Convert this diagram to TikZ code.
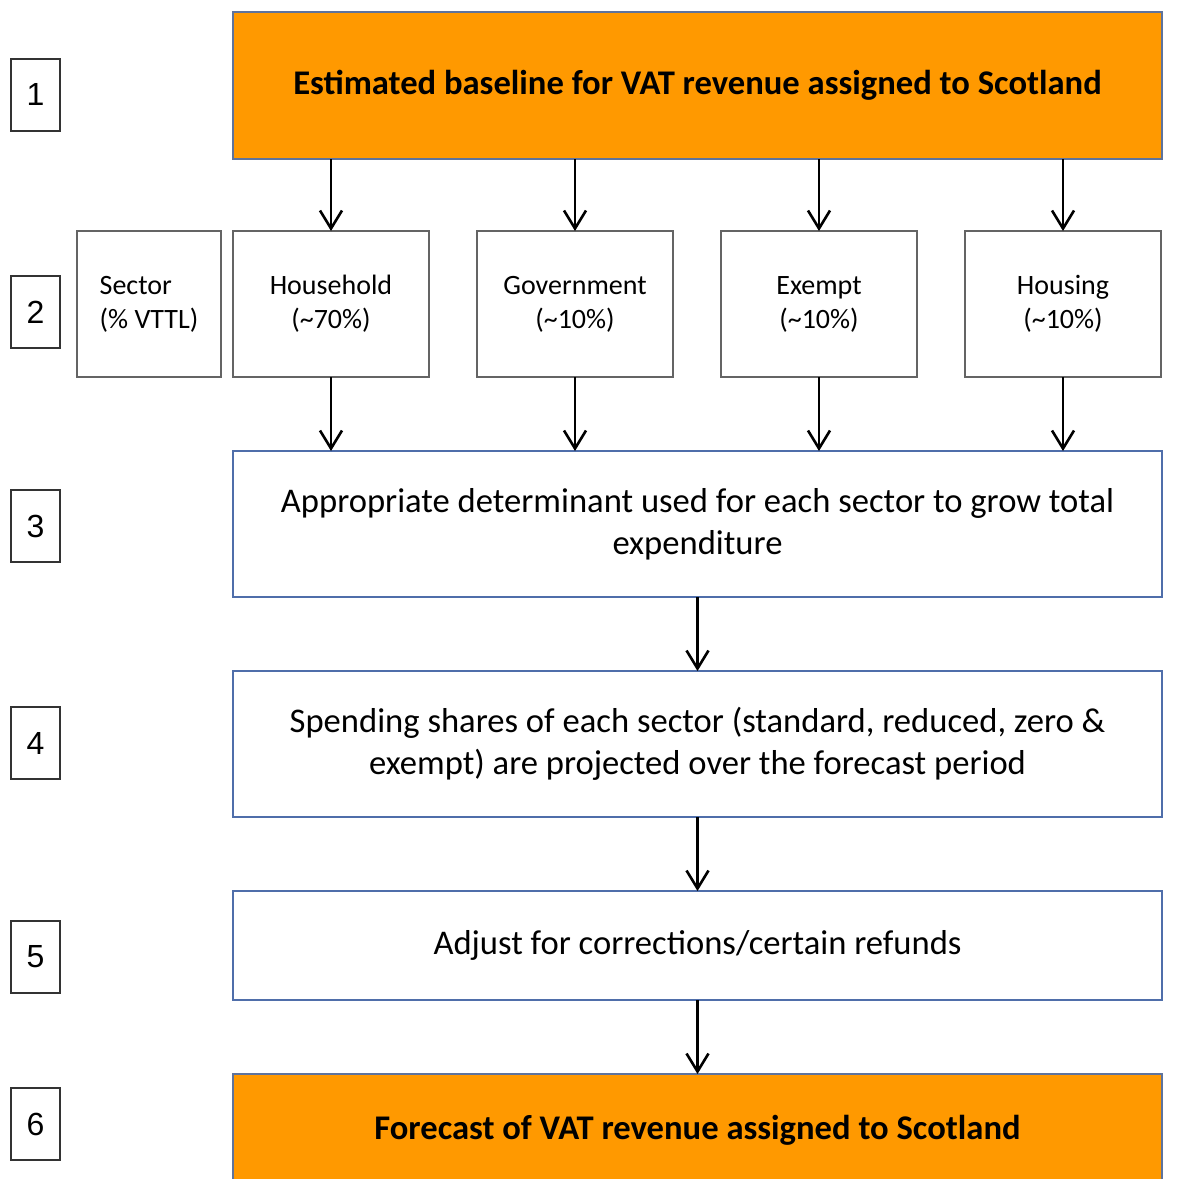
\documentclass[tikz,border=0pt]{standalone}
\usepackage{fontspec}
\setmainfont{Carlito}
\newfontfamily\numfont{Liberation Sans}
\usetikzlibrary{arrows.meta}
\usetikzlibrary{positioning}
\definecolor{vatorange}{RGB}{255,153,0}
\definecolor{vatblue}{RGB}{79,110,170}
\definecolor{vatgray}{RGB}{100,100,100}
\tikzstyle{arr}=[-{Straight Barb[length=9pt,width=11pt]}, line width=1.3pt, black]
\tikzset{
stepbox/.style = {draw=vatblue, line width=0.9pt, fill=white, outer sep=0pt,
                  minimum width=464.5pt, minimum height=#1, align=center,
                  font=\fontsize{17.3}{21}\selectfont},
stepbox/.default = 73pt,
keybox/.style = {stepbox, fill=vatorange, draw=vatblue!70!gray, line width=0.6pt,
                 minimum height=#1, font=\fontsize{17.3}{21}\selectfont\bfseries},
keybox/.default = 73.5pt,
sectorbox/.style = {draw=vatgray, line width=1pt, outer sep=0pt, minimum width=98pt,
                    minimum height=73pt, align=center,
                    font=\fontsize{14}{17}\selectfont},
numbox/.style = {draw=black!80, line width=1pt, minimum width=24.5pt, minimum height=36pt,
                 inner sep=0pt, font=\numfont\fontsize{16}{16}\selectfont}
}
\begin{document}
\begin{tikzpicture}
        \useasboundingbox (0,0) rectangle (591pt,-589pt);

        \node[keybox, anchor=north west] (base) at (116.5pt,-6pt) {Estimated baseline for VAT revenue assigned to Scotland};

        \node[sectorbox, below right=36pt and 0pt of base.south west] (hh) {Household\\(\textasciitilde70\%)};
        \node[sectorbox, minimum width=72pt, align=left, left=6pt of hh] (sec) {Sector\\(\% VTTL)};
        \node[sectorbox, right=24pt of hh] (gov) {Government\\(\textasciitilde10\%)};
        \node[sectorbox, right=24pt of gov] (ex) {Exempt\\(\textasciitilde10\%)};
        \node[sectorbox, right=24pt of ex] (hs) {Housing\\(\textasciitilde10\%)};

        \node[stepbox, below right=37pt and 0pt of hh.south west] (det) {Appropriate determinant used for each sector to grow total\\expenditure};
        \node[stepbox, below=37pt of det] (share) {Spending shares of each sector (standard, reduced, zero \&\\exempt) are projected over the forecast period};
        \node[stepbox=54.5pt, below=37pt of share] (adj) {Adjust for corrections/certain refunds};
        \node[keybox=56pt, below=37pt of adj] (fc) {Forecast of VAT revenue assigned to Scotland};

        \node[numbox] (n1) at (17.75pt,-47.25pt) {1};
        \node[numbox] (n2) at (17.75pt,-156pt) {2};
        \node[numbox] (n3) at (17.75pt,-263pt) {3};
        \node[numbox] (n4) at (17.75pt,-371.5pt) {4};
        \node[numbox] (n5) at (17.75pt,-478.25pt) {5};
        \node[numbox] (n6) at (17.75pt,-562pt) {6};

        \path
        (base.south -| hh) edge[arr] (hh.north)
        (base.south -| gov) edge[arr] (gov.north)
        (base.south -| ex) edge[arr] (ex.north)
        (base.south -| hs) edge[arr] (hs.north)
        (hh.south) edge[arr] (det.north -| hh)
        (gov.south) edge[arr] (det.north -| gov)
        (ex.south) edge[arr] (det.north -| ex)
        (hs.south) edge[arr] (det.north -| hs)
        (det.south) edge[arr] (share.north)
        (share.south) edge[arr] (adj.north)
        (adj.south) edge[arr] (fc.north);
\end{tikzpicture}
\end{document}
